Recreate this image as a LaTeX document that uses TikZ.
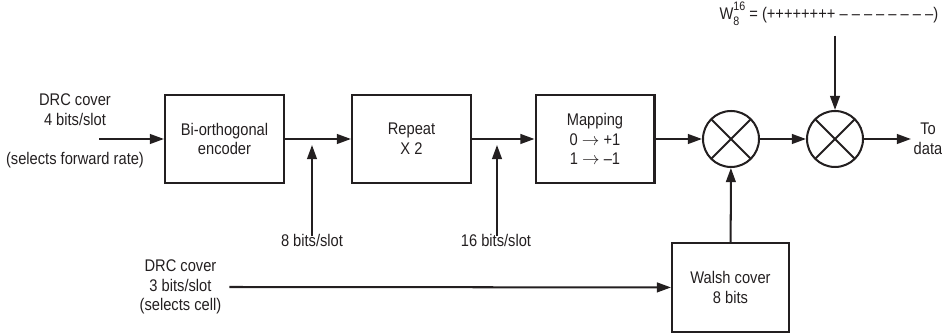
\documentclass[tikz,border=0pt]{standalone}
\usepackage{fontspec}
\setmainfont{Liberation Sans}[FakeStretch=0.87]
\usepackage{tikz}
\usetikzlibrary{arrows.meta}
\definecolor{ink}{HTML}{231F20}
\newcommand{\wsub}[2]{\rlap{\raisebox{-0.75ex}{\scriptsize #2}}\raisebox{0.95ex}{\scriptsize #1}}

\begin{document}
\begin{tikzpicture}[x=0.02cm,y=-0.02cm,line width=1.15pt,draw=ink,text=ink,
  font=\fontsize{9.6}{11.3}\selectfont,
  blk/.style={draw,rectangle,align=center,minimum width=2.38cm,minimum height=1.76cm,inner sep=0pt},
  mult/.style={draw,circle,minimum size=1.12cm,inner sep=0pt,
    path picture={\draw[line width=1.1pt] (path picture bounding box.north west) -- (path picture bounding box.south east)
      (path picture bounding box.north east) -- (path picture bounding box.south west);}},
  lbl/.style={align=center,inner sep=1pt},
  sig/.style={-{Triangle[length=8pt,width=5.5pt]}}]
  \useasboundingbox (0,0) rectangle (942,333);
  % main chain
  \node[blk] (enc) at (224.5,139) {Bi-orthogonal\\encoder};
  \node[blk] (rep) at (411.5,139) {Repeat\\X 2};
  \node[blk] (map) at (595,139) {Mapping\\0 $\rightarrow$ +1\\1 $\rightarrow$ --1};
  \node[mult] (mul1) at (731,139) {};
  \node[mult] (mul2) at (835,139) {};
  \node[blk,minimum width=2.34cm,minimum height=1.78cm] (walsh) at (730.5,287.5) {Walsh cover\\8 bits};
  % inputs and outputs
  \node[lbl] (drc1) at (75,110) {DRC cover\\4 bits/slot};
  \node[lbl] (fwd) at (75,160) {(selects forward rate)};
  \coordinate (in1) at (99,139);
  \node[lbl,anchor=east] (drc2) at (224,287) {DRC cover\\3 bits/slot\\(selects cell)};
  \node[lbl,anchor=east] (wcode) at (941,14) {W\wsub{16}{8} = (++++++++ -- -- -- -- -- -- -- --)};
  \node[lbl] (out) at (928,139) {To\\data};
  \node[lbl] (b8) at (312,240) {8 bits/slot};
  \node[lbl] (b16) at (496,240) {16 bits/slot};
  \coordinate (t8) at (312,145);
  \coordinate (t16) at (497,145);
  % connectors
  \draw[sig] (in1) -- (enc);
  \draw[sig] (enc) -- (rep);
  \draw[sig] (rep) -- (map);
  \draw[sig] (map) -- (mul1);
  \draw[sig] (mul1) -- (mul2);
  \draw[sig] (mul2) -- (out.west);
  \draw[sig] ([yshift=-3pt]b8.north) -- (t8);
  \draw[sig] ([yshift=-3pt]b16.north -| t16) -- (t16);
  \draw[sig] ([xshift=3pt]drc2.east) -- (walsh);
  \draw[sig] (walsh) -- (mul1);
  \draw[sig] ([yshift=-4pt]wcode.south -| mul2) -- (mul2);
\end{tikzpicture}
\end{document}
